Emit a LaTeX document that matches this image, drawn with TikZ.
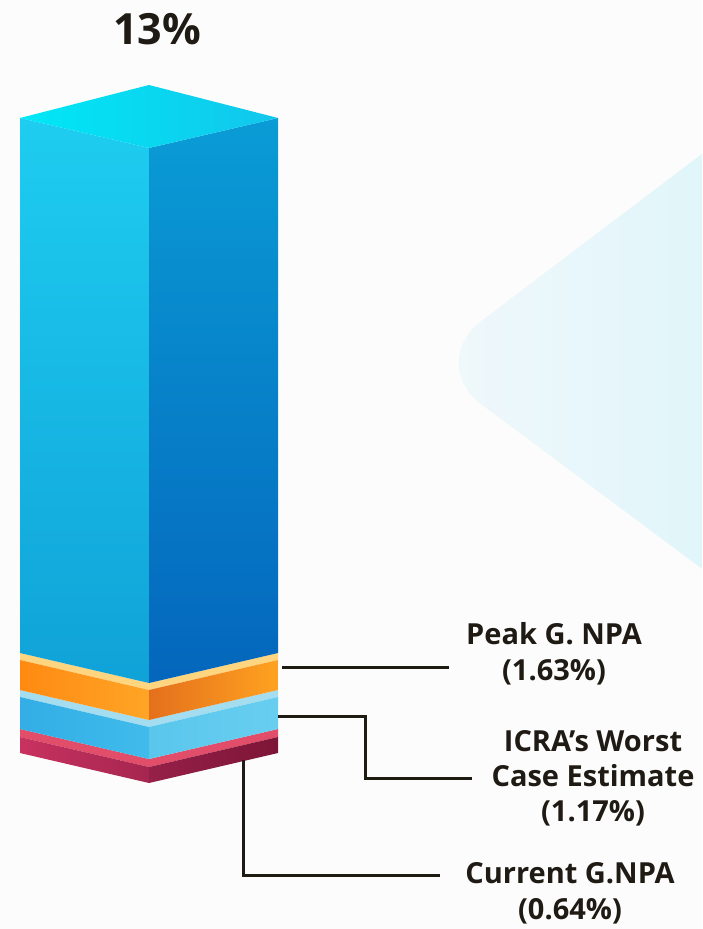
\documentclass[tikz,border=0pt]{standalone}
\usepackage{fontspec}
\setmainfont{Open Sans}
\definecolor{linecol}{HTML}{1E1B12}
\definecolor{txtcol}{HTML}{1F1B14}
\definecolor{bgL}{HTML}{F1F8FB}
\definecolor{bgR}{HTML}{DDF5FA}
\begin{document}
\begin{tikzpicture}[x=1pt,y=-1pt,
  leader/.style={draw=linecol,line width=3pt},
  lbl/.style={font=\fontsize{29}{36}\selectfont\bfseries,text=txtcol,align=center,inner sep=0pt,anchor=north}]
\useasboundingbox (0,0) rectangle (702,929);
\clip (0,0) rectangle (702,929);
\fill[white!98!gray] (0,0) rectangle (702,929);
% faint background diamond
\shade[left color=bgL,right color=bgR,rounded corners=70]
  (760,110) -- (426,363) -- (760,612) -- cycle;
% red slab
\fill[fill={rgb,255:red,226;green,77;blue,106}] (20,729) -- (149,759) -- (278,729) -- (278,737) -- (149,767) -- (20,737) -- cycle;
\shade[left color={rgb,255:red,200;green,50;blue,96},right color={rgb,255:red,165;green,38;blue,80}] (20,737) -- (149,767) -- (149,783) -- (20,753) -- cycle;
\shade[left color={rgb,255:red,150;green,32;blue,72},right color={rgb,255:red,125;green,21;blue,55}] (149,767) -- (278,737) -- (278,753) -- (149,783) -- cycle;
% light blue slab
\fill[fill={rgb,255:red,165;green,221;blue,240}] (20,690) -- (149,720) -- (278,690) -- (278,697) -- (149,727) -- (20,697) -- cycle;
\shade[left color={rgb,255:red,51;green,174;blue,230},right color={rgb,255:red,64;green,187;blue,235}] (20,697) -- (149,727) -- (149,759) -- (20,729) -- cycle;
\shade[left color={rgb,255:red,90;green,198;blue,236},right color={rgb,255:red,104;green,206;blue,240}] (149,727) -- (278,697) -- (278,729) -- (149,759) -- cycle;
% orange slab
\fill[fill={rgb,255:red,255;green,213;blue,128}] (20,653) -- (149,683) -- (278,653) -- (278,660) -- (149,690) -- (20,660) -- cycle;
\shade[left color={rgb,255:red,255;green,138;blue,18},right color={rgb,255:red,255;green,165;blue,38}] (20,660) -- (149,690) -- (149,720) -- (20,690) -- cycle;
\shade[left color={rgb,255:red,228;green,112;blue,28},right color={rgb,255:red,255;green,162;blue,32}] (149,690) -- (278,660) -- (278,690) -- (149,720) -- cycle;
% main column
\shade[top color={rgb,255:red,30;green,205;blue,240},bottom color={rgb,255:red,16;green,162;blue,216}] (20,118) -- (149,148) -- (149,683) -- (20,653) -- cycle;
\shade[top color={rgb,255:red,10;green,156;blue,214},bottom color={rgb,255:red,4;green,102;blue,188}] (149,148) -- (278,118) -- (278,653) -- (149,683) -- cycle;
\shade[left color={rgb,255:red,0;green,232;blue,245},right color={rgb,255:red,18;green,198;blue,236}] (149,85) -- (278,118) -- (149,148) -- (20,118) -- cycle;
% title
\node[lbl,font=\fontsize{43}{50}\selectfont\bfseries] (title) at (157,13) {13\%};
% labels
\node[lbl] (peak) at (554,622) {Peak G. NPA\\(1.63\%)};
\node[lbl,font=\fontsize{29}{35}\selectfont\bfseries] (icra) at (593,730) {ICRA’s Worst\\Case Estimate\\(1.17\%)};
\node[lbl] (current) at (570,862) {Current G.NPA\\(0.64\%)};
% connector anchor points
\coordinate (orangeR) at (282,667);
\coordinate (peakE) at (449,667);
\coordinate (blueR) at (278,716);
\coordinate (icraB) at (365,716);
\coordinate (icraE) at (472,778);
\coordinate (redR) at (243,760);
\coordinate (curE) at (440,875);
\draw[leader] (orangeR) -- (peakE);
\draw[leader] (blueR) -- (icraB) |- (icraE);
\draw[leader] (redR) |- (curE);
\end{tikzpicture}
\end{document}
